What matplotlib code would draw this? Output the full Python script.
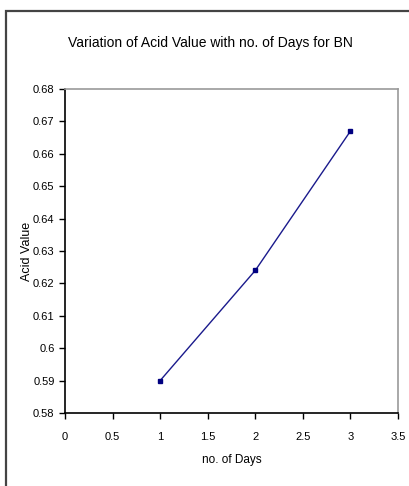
import matplotlib
matplotlib.use("Agg")
import matplotlib.pyplot as plt
from matplotlib.patches import Rectangle

days = [1, 2, 3]
acid_value = [0.590, 0.624, 0.667]
x_ticks = [0, 0.5, 1, 1.5, 2, 2.5, 3, 3.5]
x_labels = ["0", "0.5", "1", "1.5", "2", "2.5", "3", "3.5"]
y_ticks = [0.58, 0.59, 0.60, 0.61, 0.62, 0.63, 0.64, 0.65, 0.66, 0.67, 0.68]
y_labels = ["0.58", "0.59", "0.6", "0.61", "0.62", "0.63", "0.64", "0.65", "0.66", "0.67", "0.68"]

plt.rcParams["font.family"] = ["Liberation Sans Narrow", "Liberation Sans", "DejaVu Sans"]

fig = plt.figure(figsize=(4.10, 4.86), dpi=100)
W, H = 410, 486

# outer chart border (runs off the right/bottom edge like the original)
fig.patches.append(Rectangle((6 / W, -0.02), 1.2, 1 - 11 / H + 0.02,
                             transform=fig.transFigure, fill=False,
                             edgecolor="#444444", linewidth=1.6))

ax = fig.add_axes([65 / W, 1 - 413 / H, (398 - 65) / W, (413 - 89) / H])
ax.plot(days, acid_value, color="#1a1a8c", linewidth=1.0,
        marker="s", markersize=3, markerfacecolor="#000080", markeredgecolor="#000080")

ax.set_xlim(0, 3.5)
ax.set_ylim(0.58, 0.68)
ax.set_xticks(x_ticks)
ax.set_xticklabels(x_labels)
ax.set_yticks(y_ticks)
ax.set_yticklabels(y_labels)
ax.tick_params(direction="out", length=4, width=1, labelsize=8, color="black")
ax.tick_params(axis="x", pad=10)

for side in ["top", "right"]:
    ax.spines[side].set_color("#999999")
    ax.spines[side].set_linewidth(1.2)
for side in ["left", "bottom"]:
    ax.spines[side].set_color("black")
    ax.spines[side].set_linewidth(1.2)

ax.set_xlabel("no. of Days", fontsize=8.5, labelpad=8)
ax.set_ylabel("Acid Value", fontsize=9, labelpad=0)
fig.text(210 / W, 1 - 43 / H, "Variation of Acid Value with no. of Days for BN",
         ha="center", va="center", fontsize=10)

fig.savefig("out.png", dpi=100)
